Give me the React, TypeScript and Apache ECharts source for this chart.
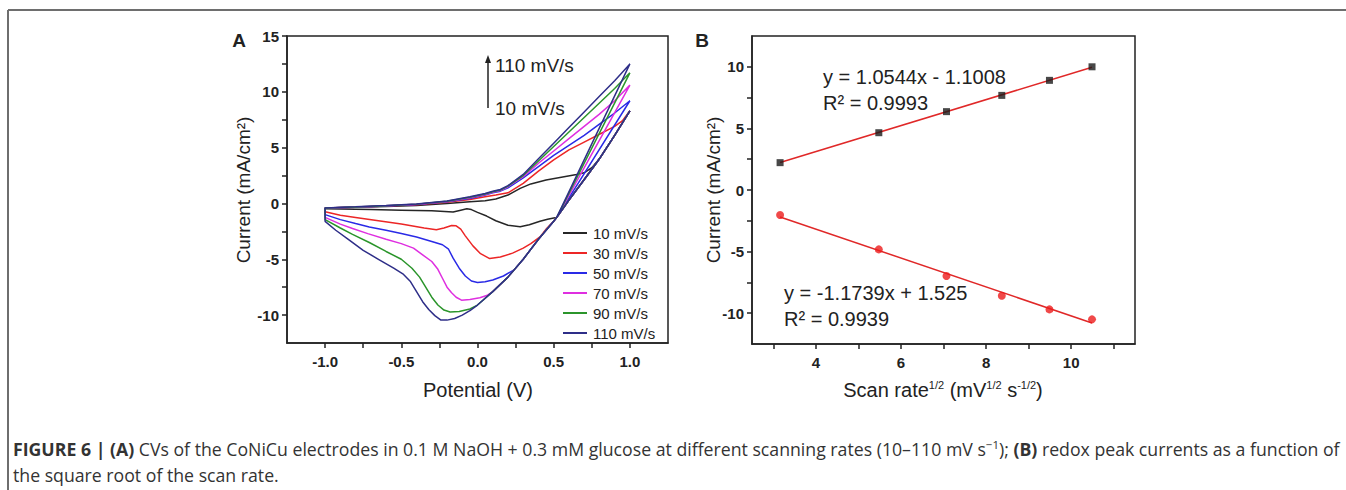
import { useEffect, useRef } from "react";
import * as echarts from "echarts";

// ---------- Panel A: cyclic voltammograms ----------
const scanRates = ["10 mV/s", "30 mV/s", "50 mV/s", "70 mV/s", "90 mV/s", "110 mV/s"];
const cvColors = ["#262626", "#ec2626", "#2a2ae6", "#df2fe0", "#2b952b", "#2e2e88"];

// shared lower-right envelope (anodic limit down to the cathodic region)
const envelope: [number, number][] = [
  [1.0, 8.3], [0.9, 6.1], [0.8, 4.0], [0.72, 2.5], [0.6, 0.3], [0.52, -1.25], [0.5, -1.6],
  [0.4, -3.2], [0.3, -5.0], [0.2, -6.6], [0.1, -7.9], [0.0, -9.1], [-0.05, -9.6],
  [-0.1, -10.0], [-0.15, -10.3], [-0.2, -10.45],
];
const junction: [number, number] = [0.52, -1.25];

const lower10: [number, number][] = [
  [0.5, -1.3], [0.46, -1.42], [0.41, -1.6], [0.34, -1.9], [0.28, -2.08], [0.2, -1.95], [0.12, -1.55],
  [0.06, -1.13], [0.0, -0.8], [-0.04, -0.55], [-0.07, -0.47], [-0.11, -0.6], [-0.16, -0.77],
  [-0.3, -0.66], [-0.5, -0.6], [-0.7, -0.55], [-0.9, -0.5], [-1.0, -0.47],
];
const upper10: [number, number][] = [
  [-1.0, -0.4], [-0.8, -0.35], [-0.6, -0.28], [-0.4, -0.18], [-0.2, 0.0], [-0.05, 0.15], [0.05, 0.25],
  [0.12, 0.4], [0.2, 0.75], [0.28, 1.35], [0.35, 1.75], [0.45, 2.1], [0.55, 2.35], [0.65, 2.6],
  [0.7, 2.75], [0.75, 3.2], [0.8, 4.0], [0.9, 6.1], [1.0, 8.3],
];

const lower30: [number, number][] = [
  [0.45, -2.3], [0.41, -3.0], [0.35, -3.6], [0.3, -4.0], [0.23, -4.45], [0.15, -4.8], [0.08, -4.94],
  [0.02, -4.5], [-0.03, -3.8], [-0.08, -2.9], [-0.11, -2.3], [-0.14, -2.0], [-0.17, -1.97],
  [-0.22, -2.2], [-0.27, -2.35], [-0.35, -2.2], [-0.5, -1.85], [-0.65, -1.55], [-0.8, -1.25],
  [-0.9, -1.05], [-1.0, -0.75],
];
const upper30: [number, number][] = [
  [-1.0, -0.4], [-0.8, -0.33], [-0.6, -0.23], [-0.4, -0.12], [-0.2, 0.1], [-0.05, 0.35], [0.05, 0.6],
  [0.12, 0.75], [0.2, 0.95], [0.3, 1.8], [0.4, 2.9], [0.5, 3.9], [0.6, 4.8], [0.7, 5.5], [0.8, 6.2],
  [0.9, 6.9], [0.95, 7.4], [1.0, 8.3],
];

const lower50: [number, number][] = [
  [0.24, -5.95], [0.17, -6.5], [0.1, -6.85], [0.05, -7.02], [0.0, -7.08], [-0.04, -6.95], [-0.08, -6.5],
  [-0.12, -5.8], [-0.16, -4.9], [-0.19, -4.1], [-0.23, -3.7], [-0.3, -3.4], [-0.4, -3.0], [-0.5, -2.7],
  [-0.6, -2.4], [-0.71, -2.1], [-0.8, -1.8], [-0.9, -1.45], [-1.0, -1.0],
];
const upper50: [number, number][] = [
  [-1.0, -0.4], [-0.8, -0.33], [-0.6, -0.22], [-0.4, -0.1], [-0.2, 0.15], [-0.05, 0.45], [0.05, 0.75],
  [0.1, 0.95], [0.15, 1.1], [0.2, 1.4], [0.3, 2.3], [0.4, 3.3], [0.5, 4.3], [0.6, 5.2], [0.7, 6.1],
  [0.8, 7.1], [0.9, 8.1], [1.0, 9.2],
];

const lower70: [number, number][] = [
  [0.06, -8.25], [0.015, -8.45], [-0.05, -8.6], [-0.105, -8.66], [-0.14, -8.4], [-0.17, -8.0],
  [-0.2, -7.5], [-0.23, -6.7], [-0.26, -5.9], [-0.3, -5.2], [-0.36, -4.6], [-0.42, -4.0], [-0.5, -3.6],
  [-0.6, -3.2], [-0.72, -2.7], [-0.82, -2.25], [-0.9, -1.85], [-1.0, -1.25],
];
const upper70: [number, number][] = [
  [-1.0, -0.4], [-0.8, -0.32], [-0.6, -0.21], [-0.4, -0.08], [-0.2, 0.18], [-0.05, 0.5], [0.05, 0.8],
  [0.1, 1.0], [0.15, 1.15], [0.2, 1.5], [0.3, 2.4], [0.4, 3.6], [0.5, 4.7], [0.6, 5.8], [0.7, 6.9],
  [0.8, 8.0], [0.9, 9.2], [1.0, 10.6],
];

const lower90: [number, number][] = [
  [-0.05, -9.45], [-0.12, -9.67], [-0.18, -9.72], [-0.22, -9.55], [-0.26, -9.1], [-0.3, -8.4],
  [-0.34, -7.5], [-0.38, -6.6], [-0.43, -5.8], [-0.5, -5.0], [-0.6, -4.3], [-0.71, -3.5],
  [-0.82, -2.77], [-0.9, -2.2], [-1.0, -1.45],
];
const upper90: [number, number][] = [
  [-1.0, -0.4], [-0.8, -0.31], [-0.6, -0.2], [-0.4, -0.06], [-0.2, 0.2], [-0.05, 0.55], [0.05, 0.85],
  [0.1, 1.05], [0.15, 1.2], [0.2, 1.55], [0.3, 2.5], [0.4, 3.8], [0.5, 5.1], [0.6, 6.4], [0.7, 7.7],
  [0.8, 9.0], [0.9, 10.3], [1.0, 11.7],
];

const lower110: [number, number][] = [
  [-0.24, -10.45], [-0.28, -10.05], [-0.32, -9.5], [-0.36, -8.8], [-0.4, -7.9], [-0.44, -7.0],
  [-0.49, -6.3], [-0.55, -5.8], [-0.65, -5.0], [-0.75, -4.2], [-0.85, -3.2], [-0.93, -2.4], [-1.0, -1.6],
];
const upper110: [number, number][] = [
  [-1.0, -0.4], [-0.8, -0.3], [-0.6, -0.19], [-0.4, -0.05], [-0.2, 0.22], [-0.05, 0.6], [0.05, 0.9],
  [0.1, 1.1], [0.15, 1.25], [0.2, 1.6], [0.3, 2.6], [0.4, 4.0], [0.5, 5.4], [0.6, 6.8], [0.7, 8.2],
  [0.8, 9.6], [0.9, 11.0], [1.0, 12.5],
];

const lowerBranches = [lower10, lower30, lower50, lower70, lower90, lower110];
const upperBranches = [upper10, upper30, upper50, upper70, upper90, upper110];

const xTicksA = [-1, -0.75, -0.5, -0.25, 0, 0.25, 0.5, 0.75, 1];
const xLabelsA = [-1, -0.5, 0, 0.5, 1];
const yTicksA = [-10, -7.5, -5, -2.5, 0, 2.5, 5, 7.5, 10, 12.5, 15];
const yLabelsA = [-10, -5, 0, 5, 10, 15];

// ---------- Panel B: peak currents vs sqrt(scan rate) ----------
const sqrtRate = [3.16, 5.48, 7.07, 8.37, 9.49, 10.49];
const anodicPeak = [2.22, 4.65, 6.36, 7.68, 8.9, 10.0];
const cathodicPeak = [-2.03, -4.82, -6.98, -8.58, -9.69, -10.5];
const anodicFit: [number, number][] = [[3.16, 2.23], [10.49, 9.96]];
const cathodicFit: [number, number][] = [[3.16, -2.19], [10.49, -10.79]];

const xTicksB = [3, 4, 5, 6, 7, 8, 9, 10, 11];
const xLabelsB = [4, 6, 8, 10];
const yTicksB = [-10, -7.5, -5, -2.5, 0, 2.5, 5, 7.5, 10];
const yLabelsB = [-10, -5, 0, 5, 10];

const FONT = "Liberation Sans, Arial, Helvetica, sans-serif";
const CAP_FONT = "Open Sans, Liberation Sans, Arial, sans-serif";
const INK = "#222";

function buildLoop(i: number): [number, number][] {
  const lower = lowerBranches[i];
  const upper = upperBranches[i];
  const start = envelope.filter((p) => p[0] > lower[0][0]);
  const pts: [number, number][] = [...start, ...lower, ...upper];
  const last = upper[upper.length - 1];
  if (last[1] > envelope[0][1] + 0.05) pts.push(junction);
  return pts;
}

function axisCommon() {
  return {
    axisLine: { show: true, onZero: false, lineStyle: { color: INK, width: 1.5 } },
    splitLine: { show: false },
  };
}

export default function App() {
  const ref = useRef<HTMLDivElement>(null);

  useEffect(() => {
    if (!ref.current) return;
    const chart = echarts.init(ref.current, undefined, { renderer: "svg" });

    const cvSeries = scanRates.map((name, i) => ({
      name,
      type: "line",
      xAxisIndex: 0,
      yAxisIndex: 0,
      data: buildLoop(i),
      symbol: "none",
      showSymbol: false,
      smooth: false,
      lineStyle: { color: cvColors[i], width: 1.5 },
      itemStyle: { color: cvColors[i] },
      z: 2 + i,
    }));

    const option: any = {
      animation: false,
      backgroundColor: "#ffffff",
      textStyle: { fontFamily: FONT },
      grid: [
        { left: 287, top: 36, width: 381, height: 307, show: true, borderColor: INK, borderWidth: 1.5, backgroundColor: "transparent" },
        { left: 752, top: 36, width: 383, height: 308, show: true, borderColor: INK, borderWidth: 1.5, backgroundColor: "transparent" },
      ],
      xAxis: [
        {
          type: "value", gridIndex: 0, min: -1.25, max: 1.25, ...axisCommon(),
          axisTick: { show: true, inside: false, length: 5, customValues: xTicksA, lineStyle: { color: INK, width: 1.5 } },
          axisLabel: { customValues: xLabelsA, formatter: (v: number) => v.toFixed(1), fontWeight: "bold", fontSize: 15, color: INK, margin: 11, fontFamily: FONT },
        },
        {
          type: "value", gridIndex: 1, min: 2.5, max: 11.5, ...axisCommon(),
          axisTick: { show: true, inside: false, length: 5, customValues: xTicksB, lineStyle: { color: INK, width: 1.5 } },
          axisLabel: { customValues: xLabelsB, formatter: (v: number) => String(v), fontWeight: "bold", fontSize: 15, color: INK, margin: 11, fontFamily: FONT },
        },
      ],
      yAxis: [
        {
          type: "value", gridIndex: 0, min: -12.5, max: 15, ...axisCommon(),
          axisTick: { show: true, inside: false, length: 5, customValues: yTicksA, lineStyle: { color: INK, width: 1.5 } },
          axisLabel: { customValues: yLabelsA, formatter: (v: number) => String(v), fontWeight: "bold", fontSize: 15, color: INK, margin: 8, fontFamily: FONT },
        },
        {
          type: "value", gridIndex: 1, min: -12.5, max: 12.5, ...axisCommon(),
          axisTick: { show: true, inside: false, length: 5, customValues: yTicksB, lineStyle: { color: INK, width: 1.5 } },
          axisLabel: { customValues: yLabelsB, formatter: (v: number) => String(v), fontWeight: "bold", fontSize: 15, color: INK, margin: 8, fontFamily: FONT },
        },
      ],
      legend: {
        data: scanRates,
        orient: "vertical",
        left: 563,
        top: 223,
        icon: "rect",
        itemWidth: 24,
        itemHeight: 2,
        itemGap: 0,
        padding: 0,
        textStyle: { fontSize: 15, color: INK, fontFamily: FONT, lineHeight: 20, padding: [0, 0, 0, 1] },
      },
      series: [
        ...cvSeries,
        {
          type: "line", xAxisIndex: 1, yAxisIndex: 1, data: anodicFit, symbol: "none",
          lineStyle: { color: "#e02828", width: 1.5 }, z: 2,
        },
        {
          type: "line", xAxisIndex: 1, yAxisIndex: 1, data: cathodicFit, symbol: "none",
          lineStyle: { color: "#e02828", width: 1.5 }, z: 2,
        },
        {
          type: "scatter", xAxisIndex: 1, yAxisIndex: 1,
          data: sqrtRate.map((x, k) => [x, anodicPeak[k]]),
          symbol: "rect", symbolSize: 7, itemStyle: { color: "#1a1a1a" }, z: 3,
        },
        {
          type: "scatter", xAxisIndex: 1, yAxisIndex: 1,
          data: sqrtRate.map((x, k) => [x, cathodicPeak[k]]),
          symbol: "circle", symbolSize: 8, itemStyle: { color: "#ec1c1c" }, z: 3,
        },
      ],
      graphic: [
        // figure frame
        { type: "line", shape: { x1: 8, y1: 10, x2: 1346, y2: 10 }, style: { stroke: "#6e6e6e", lineWidth: 2 } },
        { type: "line", shape: { x1: 8, y1: 10, x2: 8, y2: 490 }, style: { stroke: "#6e6e6e", lineWidth: 2 } },
        // panel letters
        { type: "text", x: 239, y: 40, style: { text: "A", font: `bold 19px ${FONT}`, fill: INK, align: "center", verticalAlign: "middle" } },
        { type: "text", x: 702, y: 40, style: { text: "B", font: `bold 19px ${FONT}`, fill: INK, align: "center", verticalAlign: "middle" } },
        // axis titles A
        { type: "text", x: 478, y: 390, style: { text: "Potential (V)", font: `20px ${FONT}`, fill: INK, align: "center", verticalAlign: "middle" } },
        { type: "text", x: 243, y: 190, rotation: Math.PI / 2, style: { text: "Current (mA/cm²)", font: `19px ${FONT}`, fill: INK, align: "center", verticalAlign: "middle" } },
        // axis titles B
        {
          type: "text", x: 943, y: 390,
          style: {
            text: "Scan rate{sup|1/2} (mV{sup|1/2} s{sup|-1/2})",
            font: `20px ${FONT}`, fill: INK, align: "center", verticalAlign: "middle",
            rich: { sup: { fontSize: 11, fontFamily: FONT, fill: INK, padding: [0, 0, 10, 0] } },
          },
        },
        { type: "text", x: 713, y: 190, rotation: Math.PI / 2, style: { text: "Current (mA/cm²)", font: `19px ${FONT}`, fill: INK, align: "center", verticalAlign: "middle" } },
        // scan-rate arrow annotation
        { type: "line", shape: { x1: 488, y1: 108, x2: 488, y2: 60 }, style: { stroke: INK, lineWidth: 1.5 } },
        { type: "polygon", shape: { points: [[485, 63], [491, 63], [488, 55]] }, style: { fill: INK } },
        { type: "text", x: 495, y: 65, style: { text: "110 mV/s", font: `19px ${FONT}`, fill: INK, align: "left", verticalAlign: "middle" } },
        { type: "text", x: 495, y: 108, style: { text: "10 mV/s", font: `19px ${FONT}`, fill: INK, align: "left", verticalAlign: "middle" } },
        // fit equations B
        { type: "text", x: 823, y: 77, style: { text: "y = 1.0544x - 1.1008", font: `20px ${FONT}`, fill: INK, align: "left", verticalAlign: "middle" } },
        { type: "text", x: 823, y: 103, style: { text: "R² = 0.9993", font: `20px ${FONT}`, fill: INK, align: "left", verticalAlign: "middle" } },
        { type: "text", x: 784, y: 293, style: { text: "y = -1.1739x + 1.525", font: `20px ${FONT}`, fill: INK, align: "left", verticalAlign: "middle" } },
        { type: "text", x: 784, y: 319, style: { text: "R² = 0.9939", font: `20px ${FONT}`, fill: INK, align: "left", verticalAlign: "middle" } },
        // caption
        {
          type: "text", x: 13, y: 449,
          style: {
            text: "{b|FIGURE 6 | (A)} CVs of the CoNiCu electrodes in 0.1 M NaOH + 0.3 mM glucose at different scanning rates (10–110 mV s{sup|−1}); {b|(B)} redox peak currents as a function of",
            font: `17.7px ${CAP_FONT}`, fill: "#333", align: "left", verticalAlign: "middle",
            rich: {
              b: { fontWeight: "bold", fontSize: 17.7, fontFamily: CAP_FONT, fill: "#333" },
              sup: { fontSize: 11.5, fontFamily: CAP_FONT, fill: "#333", padding: [0, 0, 9, 0] },
            },
          },
        },
        { type: "text", x: 13, y: 475, style: { text: "the square root of the scan rate.", font: `17.7px ${CAP_FONT}`, fill: "#333", align: "left", verticalAlign: "middle" } },
      ],
    };

    chart.setOption(option);
    return () => chart.dispose();
  }, []);

  return (
    <div
      ref={ref}
      style={{ position: "absolute", left: 0, top: 0, width: 1346, height: 490, background: "#fff" }}
    />
  );
}
